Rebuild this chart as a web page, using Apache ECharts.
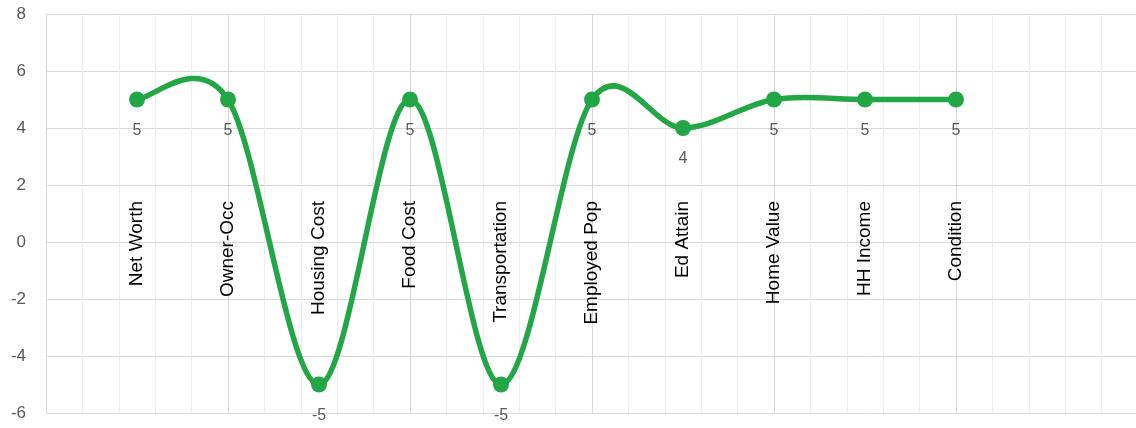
<!DOCTYPE html>
<html><head><meta charset="utf-8">
<script src="https://cdn.jsdelivr.net/npm/echarts@6/dist/echarts.min.js"></script>
<style>html,body{margin:0;padding:0;background:#fff}#c{width:1136px;height:428px}</style>
</head><body><div id="c"></div>
<script>
var categories = ["Net Worth","Owner-Occ","Housing Cost","Food Cost","Transportation","Employed Pop","Ed Attain","Home Value","HH Income","Condition"];
var values = [5,5,-5,5,-5,5,4,5,5,5];
var yTicks = {min:-6, max:8, interval:2};

var GREEN = '#22a646';
var FONT = 'Liberation Sans, Arial, sans-serif';
var chart = echarts.init(document.getElementById('c'), null, {renderer:'canvas'});
var unit = 1092/12;

function segment(params, api) {
  var i = params.dataIndex;
  var n = values.length;
  if (i >= n - 1) return null;
  function pt(k) {
    k = Math.max(0, Math.min(n - 1, k));
    return api.coord([k, values[k]]);
  }
  var p0 = pt(i - 1), p1 = pt(i), p2 = pt(i + 1), p3 = pt(i + 2);
  var f = 1 / 6;
  return {
    type:'bezierCurve',
    shape:{
      x1:p1[0], y1:p1[1], x2:p2[0], y2:p2[1],
      cpx1:p1[0] + (p2[0] - p0[0]) * f, cpy1:p1[1] + (p2[1] - p0[1]) * f,
      cpx2:p2[0] - (p3[0] - p1[0]) * f, cpy2:p2[1] - (p3[1] - p1[1]) * f
    },
    style:{stroke:GREEN, lineWidth:5.5, fill:null, lineCap:'round'}
  };
}

chart.setOption({
  animation:false,
  grid:[
    {left:46, width:1092, top:14, bottom:15, outerBoundsMode:'none', containLabel:false},
    {left:46+unit*0.5, width:unit*10, top:14, bottom:15, outerBoundsMode:'none', containLabel:false}
  ],
  xAxis:[
    {type:'value', gridIndex:0, min:0, max:12, interval:2,
     axisLine:{show:false}, axisTick:{show:false}, axisLabel:{show:false},
     splitLine:{show:true, lineStyle:{color:'#d9d9d9', width:1}},
     minorTick:{show:false, splitNumber:5},
     minorSplitLine:{show:true, lineStyle:{color:'#eeeeee', width:1}}},
    {type:'category', gridIndex:1, data:categories, boundaryGap:true,
     axisLine:{show:false, onZero:false}, axisTick:{show:false}, splitLine:{show:false},
     axisLabel:{rotate:90, margin:-212, interval:0, color:'#000', fontSize:19, fontFamily:FONT}}
  ],
  yAxis:[
    {type:'value', gridIndex:0, min:yTicks.min, max:yTicks.max, interval:yTicks.interval,
     axisLine:{show:false}, axisTick:{show:false},
     axisLabel:{margin:20, color:'#595959', fontSize:17, fontFamily:FONT},
     splitLine:{show:true, lineStyle:{color:'#d9d9d9', width:1}}},
    {type:'value', gridIndex:1, min:yTicks.min, max:yTicks.max, interval:yTicks.interval,
     axisLine:{show:false}, axisTick:{show:false}, axisLabel:{show:false}, splitLine:{show:false}}
  ],
  series:[
    {type:'custom', xAxisIndex:1, yAxisIndex:1, renderItem:segment, z:2,
     data:values.map(function(v, i){ return [i, v]; })},
    {type:'line', xAxisIndex:1, yAxisIndex:1, data:values, z:3,
     symbol:'circle', symbolSize:16,
     lineStyle:{opacity:0, width:0},
     itemStyle:{color:GREEN},
     label:{show:true, position:'bottom', distance:15, color:'#595959', fontSize:16, fontFamily:FONT}}
  ]
});
</script></body></html>
